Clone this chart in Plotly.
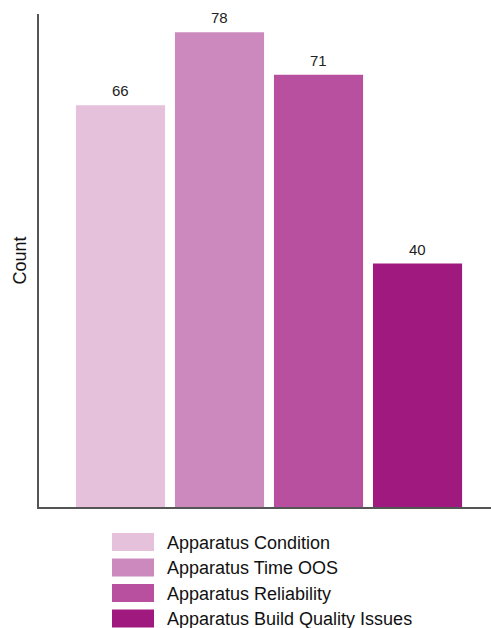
import plotly.graph_objects as go

categories = ["Apparatus Condition", "Apparatus Time OOS", "Apparatus Reliability", "Apparatus Build Quality Issues"]
counts = [66, 78, 71, 40]
colors = ["#E5C1DC", "#CC89BD", "#B8509F", "#A0197F"]

FONT = "Liberation Sans, Arial, Helvetica, sans-serif"

fig = go.Figure()
fig.add_trace(go.Bar(
    x=categories, y=counts,
    marker=dict(color=colors, line=dict(width=0)),
    showlegend=False,
))

# custom legend (large swatches) in paper coordinates
plot_l, plot_r, plot_t, plot_b = 39, 491, 14, 507
W = plot_r - plot_l
H = plot_b - plot_t
def px_x(p):
    return (p - plot_l) / W
def px_y(p):
    return (plot_b - p) / H

shapes = []
annotations = []
for cat, v in zip(categories, counts):
    annotations.append(dict(x=cat, y=v, xref="x", yref="y", text=str(v), showarrow=False,
                            yanchor="bottom", yshift=4,
                            font=dict(family=FONT, size=15, color="#222")))
row_top = 533
row_step = 25.5
for i, (name, c) in enumerate(zip(categories, colors)):
    t = row_top + i * row_step
    shapes.append(dict(type="rect", xref="paper", yref="paper",
                       x0=px_x(112), x1=px_x(154), y0=px_y(t), y1=px_y(t + 18),
                       fillcolor=c, line=dict(width=0)))
    annotations.append(dict(xref="paper", yref="paper", x=px_x(165), y=px_y(t + 9.5),
                            text=name, showarrow=False, xanchor="left", yanchor="middle",
                            font=dict(family=FONT, size=18, color="#111")))

fig.update_layout(
    width=491, height=628,
    margin=dict(l=plot_l, r=0, t=plot_t, b=628 - plot_b),
    plot_bgcolor="white", paper_bgcolor="white",
    bargap=0.1,
    shapes=shapes, annotations=annotations,
    font=dict(family=FONT, color="#111"),
    xaxis=dict(range=[-0.823, 3.742], showticklabels=False, ticks="", showgrid=False,
               zeroline=False, showline=True, linecolor="#555", linewidth=1.5),
    yaxis=dict(range=[0, 81], showticklabels=False, ticks="", showgrid=False,
               zeroline=False, showline=True, linecolor="#555", linewidth=1.5,
               title=dict(text="Count", font=dict(family=FONT, size=18, color="#111"), standoff=6)),
)

fig.write_html("out.html")
